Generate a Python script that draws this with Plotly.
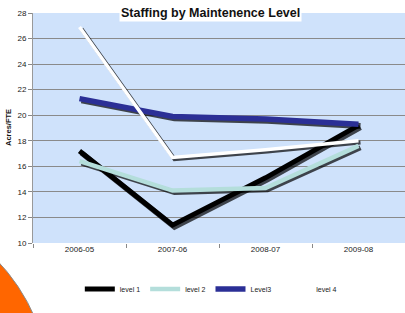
import plotly.graph_objects as go

categories = ["2006-05", "2007-06", "2008-07", "2009-08"]
level1 = [17.2, 11.4, 15.1, 19.2]
level2 = [16.4, 14.1, 14.3, 17.6]
level3 = [21.3, 19.9, 19.7, 19.3]
level4 = [26.9, 16.7, 17.3, 18.0]
series_names = ["level 1", "level 2", "Level3", "level 4"]
y_ticks = [10, 12, 14, 16, 18, 20, 22, 24, 26, 28]

colors = ["#000000", "#b4dedb", "#2b2f96", "#ffffff"]
widths = [5, 4.5, 5.5, 3.5]

W, H = 405, 313
ml, mr, mt, mb = 33, 0, 13, 70
pw, ph = W - ml - mr, H - mt - mb

fig = go.Figure()
data = [level1, level2, level3, level4]

# invisible trace on base axes so that grid / ticks render
fig.add_trace(go.Scatter(x=categories, y=level1, xaxis="x", yaxis="y", mode="lines",
                         line=dict(color="rgba(0,0,0,0)", width=0), showlegend=False,
                         hoverinfo="skip"))
# shadows (drawn on shifted overlay axes)
for vals, wdt in zip(data, widths):
    fig.add_trace(go.Scatter(x=categories, y=vals, xaxis="x2", yaxis="y2",
                             mode="lines", line=dict(color="rgba(0,0,0,0.7)", width=wdt + 0.5),
                             showlegend=False, hoverinfo="skip"))
# main lines
for name, vals, c, wdt in zip(series_names, data, colors, widths):
    fig.add_trace(go.Scatter(x=categories, y=vals, xaxis="x3", yaxis="y3",
                             mode="lines", name=name, line=dict(color=c, width=wdt)))

dx_units = 2.0 / (pw / 4)   # ~2px shift right
dy_units = 1.8 / (ph / 18)  # ~1.8px shift down

fig.update_layout(
    width=W, height=H,
    margin=dict(l=ml, r=mr, t=mt, b=mb, autoexpand=False),
    paper_bgcolor="white",
    plot_bgcolor="#cfe2fb",
    font=dict(family="Liberation Sans, Arial, sans-serif", size=8, color="#222"),
    showlegend=True,
    legend=dict(orientation="h", x=0.478, xanchor="center", y=-0.2, yanchor="middle",
                font=dict(size=7, color="#222"), itemwidth=30, tracegroupgap=0,
                bgcolor="rgba(0,0,0,0)"),
    xaxis=dict(type="category", categoryorder="array", categoryarray=categories,
               range=[-0.5, 3.5], showgrid=False, ticks="outside", tickson="boundaries",
               ticklen=4, tickcolor="#888", showline=False, zeroline=False, automargin=False,
               tickfont=dict(size=8, color="#222")),
    yaxis=dict(range=[10, 28], tickvals=y_ticks, showgrid=True, gridcolor="#8a8a8a",
               gridwidth=1, ticks="outside", ticklen=4, tickcolor="#888", automargin=False,
               showline=True, linecolor="#999", linewidth=1, zeroline=False,
               tickfont=dict(size=8, color="#222")),
    xaxis2=dict(type="category", categoryorder="array", categoryarray=categories,
                range=[-0.5 - dx_units, 3.5 - dx_units], overlaying="x",
                showgrid=False, showticklabels=False, ticks="", zeroline=False, showline=False),
    yaxis2=dict(range=[10 + dy_units, 28 + dy_units], overlaying="y",
                showgrid=False, showticklabels=False, ticks="", zeroline=False, showline=False),
    xaxis3=dict(type="category", categoryorder="array", categoryarray=categories,
                range=[-0.5, 3.5], overlaying="x",
                showgrid=False, showticklabels=False, ticks="", zeroline=False, showline=False),
    yaxis3=dict(range=[10, 28], overlaying="y",
                showgrid=False, showticklabels=False, ticks="", zeroline=False, showline=False),
)

# title with white background covering the top gridline
fig.add_annotation(text="<b>Staffing by Maintenence Level</b>", xref="paper", yref="paper",
                   x=(210 - ml) / pw, y=1.0, xanchor="center", yanchor="middle",
                   showarrow=False, bgcolor="white", borderpad=1,
                   font=dict(size=12.5, color="#111"))
# y axis title
fig.add_annotation(text="<b>Acres/FTE</b>", xref="paper", yref="paper",
                   x=(8 - ml) / pw, y=0.5, xanchor="center", yanchor="middle",
                   textangle=-90, showarrow=False, font=dict(size=7.5, color="#111"))

# decorative orange circle, lower-left
cx, cy, r = -140, 392, 190
fig.add_shape(type="circle", xref="paper", yref="paper",
              x0=(cx - r - ml) / pw, x1=(cx + r - ml) / pw,
              y0=(mt + ph - (cy + r)) / ph, y1=(mt + ph - (cy - r)) / ph,
              fillcolor="#ff6600", line=dict(color="#8a8a8a", width=1), layer="above")

fig.write_html("out.html", config={"displayModeBar": False},
               post_script="document.body.style.margin='0px';document.body.style.overflow='hidden';")
